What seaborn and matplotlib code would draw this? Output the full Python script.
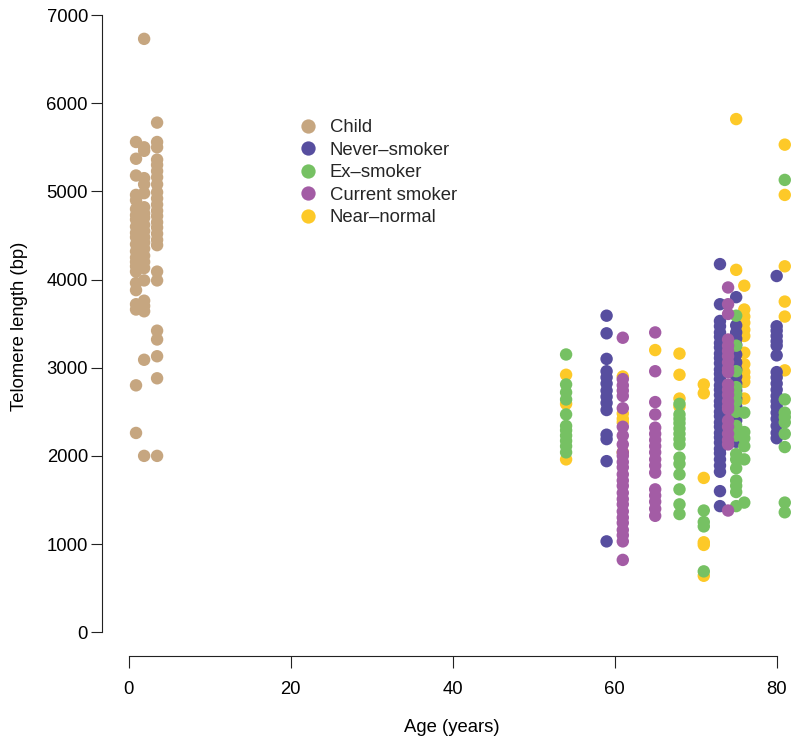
import pandas as pd
import matplotlib.pyplot as plt
import seaborn as sns

# ---- data (age in years -> telomere lengths in bp) ----
GROUPS = ["Child", "Never\u2013smoker", "Ex\u2013smoker", "Current smoker", "Near\u2013normal"]
COLORS = ["#C6A680", "#574E9F", "#76C163", "#A35CA5", "#FDC928"]

child = {
    0.9: [5560, 5370, 5180, 4960, 4900, 4800, 4730, 4680, 4600, 4530, 4480, 4400,
          4320, 4250, 4200, 4150, 4090, 3960, 3880, 3720, 3660, 2800, 2260],
    1.9: [6730, 5500, 5460, 5150, 5080, 4980, 4820, 4750, 4700, 4620, 4550, 4480,
          4420, 4350, 4270, 4200, 4130, 3990, 3760, 3700, 3640, 3090, 2000],
    3.5: [5780, 5560, 5500, 5360, 5300, 5230, 5160, 5080, 4990, 4920, 4850, 4780,
          4720, 4650, 4590, 4520, 4450, 4390, 4090, 3990, 3420, 3320, 3130, 2880, 2000],
}
near_normal = {
    54: [2920, 2590, 1960],
    61: [2900, 2480, 2420, 2380, 2040],
    65: [3200],
    68: [3160, 2920, 2650, 2560],
    71: [2810, 2710, 1750, 1020, 990, 640],
    75: [5820, 4110],
    76: [3930, 3660, 3580, 3510, 3430, 3360, 3170, 3040, 2950, 2890, 2840, 2650],
    81: [5530, 4960, 4150, 3750, 3580, 2970],
}
never_smoker = {
    59: [3590, 3390, 3100, 2960, 2890, 2820, 2740, 2670, 2600, 2520, 2240, 2190, 1940, 1030],
    73: [4175, 3720, 3530, 3470, 3400, 3350, 3280, 3230, 3160, 3110, 3050, 2980, 2930,
         2870, 2800, 2750, 2690, 2620, 2570, 2500, 2450, 2380, 2330, 2260, 2210, 2150,
         2080, 2030, 1960, 1890, 1820, 1600, 1430],
    75: [3800, 3480, 3400, 3330, 3260, 3150, 3060, 2980, 2900, 2820, 2740, 2650, 2560,
         2480, 2400, 2320, 2250, 2160],
    80: [4040, 3470, 3420, 3360, 3300, 3250, 3140, 2950, 2890, 2820, 2750, 2680, 2620,
         2560, 2490, 2420, 2340, 2260, 2200],
}
ex_smoker = {
    54: [3150, 2810, 2720, 2640, 2470, 2340, 2290, 2230, 2170, 2110, 2040],
    68: [2590, 2470, 2420, 2370, 2310, 2250, 2190, 2130, 1980, 1910, 1790, 1620, 1450, 1340],
    71: [1380, 1250, 1200, 690],
    75: [3590, 3250, 2960, 2780, 2700, 2620, 2500, 2340, 2280, 2230, 2020, 1960, 1860,
         1720, 1660, 1590, 1430],
    76: [2490, 2270, 2200, 2110, 1960, 1470],
    81: [5130, 2640, 2490, 2440, 2380, 2250, 2100, 1470, 1360],
}
current_smoker = {
    61: [3340, 2870, 2800, 2740, 2680, 2540, 2330, 2230, 2130, 2040, 2000, 1930, 1870,
         1790, 1720, 1660, 1580, 1510, 1450, 1370, 1300, 1240, 1160, 1100, 1030, 820],
    65: [3400, 2960, 2610, 2470, 2320, 2250, 2180, 2110, 2040, 1960, 1890, 1810, 1620,
         1550, 1480, 1400, 1320],
    74: [3910, 3720, 3610, 3320, 3250, 3190, 3130, 3060, 2990, 2950, 2810, 2750, 2690,
         2620, 2560, 2530, 2400, 2330, 2250, 2180, 2130, 1380],
}

# drawing order (later groups are painted on top)
DRAW_ORDER = [("Child", child), ("Near\u2013normal", near_normal),
              ("Never\u2013smoker", never_smoker), ("Ex\u2013smoker", ex_smoker),
              ("Current smoker", current_smoker)]


def armar_tabla():
    filas = []
    for grupo, datos in DRAW_ORDER:
        for edad, valores in datos.items():
            for v in valores:
                filas.append({"age": edad, "tl": v, "group": grupo})
    return pd.DataFrame(filas)


df = armar_tabla()

sns.set_style("ticks")
plt.rcParams["font.family"] = ["Liberation Sans", "DejaVu Sans"]
FS = 13.3

fig = plt.figure(figsize=(8, 7.5), dpi=100)
ax = fig.add_axes([102.5 / 800, 1 - 656 / 750, 1 - 102.5 / 800, (656 - 5) / 750])

sns.scatterplot(data=df, x="age", y="tl", hue="group", hue_order=GROUPS,
                palette=COLORS, s=80, linewidth=0, alpha=1, ax=ax, clip_on=False)

ax.set_xlim(-3.24, 82.88)
ax.set_ylim(-270, 7114)
ax.set_xticks([0, 20, 40, 60, 80])
ax.set_yticks(range(0, 7001, 1000))
ax.tick_params(axis="x", length=8.6, width=0.8, pad=9.5, labelsize=FS, colors="#222222")
ax.tick_params(axis="y", length=8.0, width=0.8, pad=2.5, labelsize=FS, colors="#222222")
for lab in ax.get_xticklabels() + ax.get_yticklabels():
    lab.set_color("black")

sns.despine(ax=ax)
ax.spines["left"].set_bounds(0, 7000)
ax.spines["bottom"].set_bounds(0, 80)
for s in ("left", "bottom"):
    ax.spines[s].set_linewidth(0.8)
    ax.spines[s].set_color("#222222")

ax.set_xlabel("Age (years)", fontsize=FS, color="black")
ax.set_ylabel("Telomere length (bp)", fontsize=FS, color="black")
ax.xaxis.set_label_coords(0.5015, -0.0968)
ax.yaxis.set_label_coords(-0.107, 0.5058)

sns.move_legend(ax, "upper left", bbox_to_anchor=(298.75 / 800, 1 - 119 / 750),
                bbox_transform=fig.transFigure, frameon=False, title=None,
                fontsize=FS, handlelength=1.0, handletextpad=0.69,
                labelspacing=0.3, borderpad=0, borderaxespad=0, markerscale=1.15)

fig.savefig("out.png", dpi=100)
plt.close(fig)
